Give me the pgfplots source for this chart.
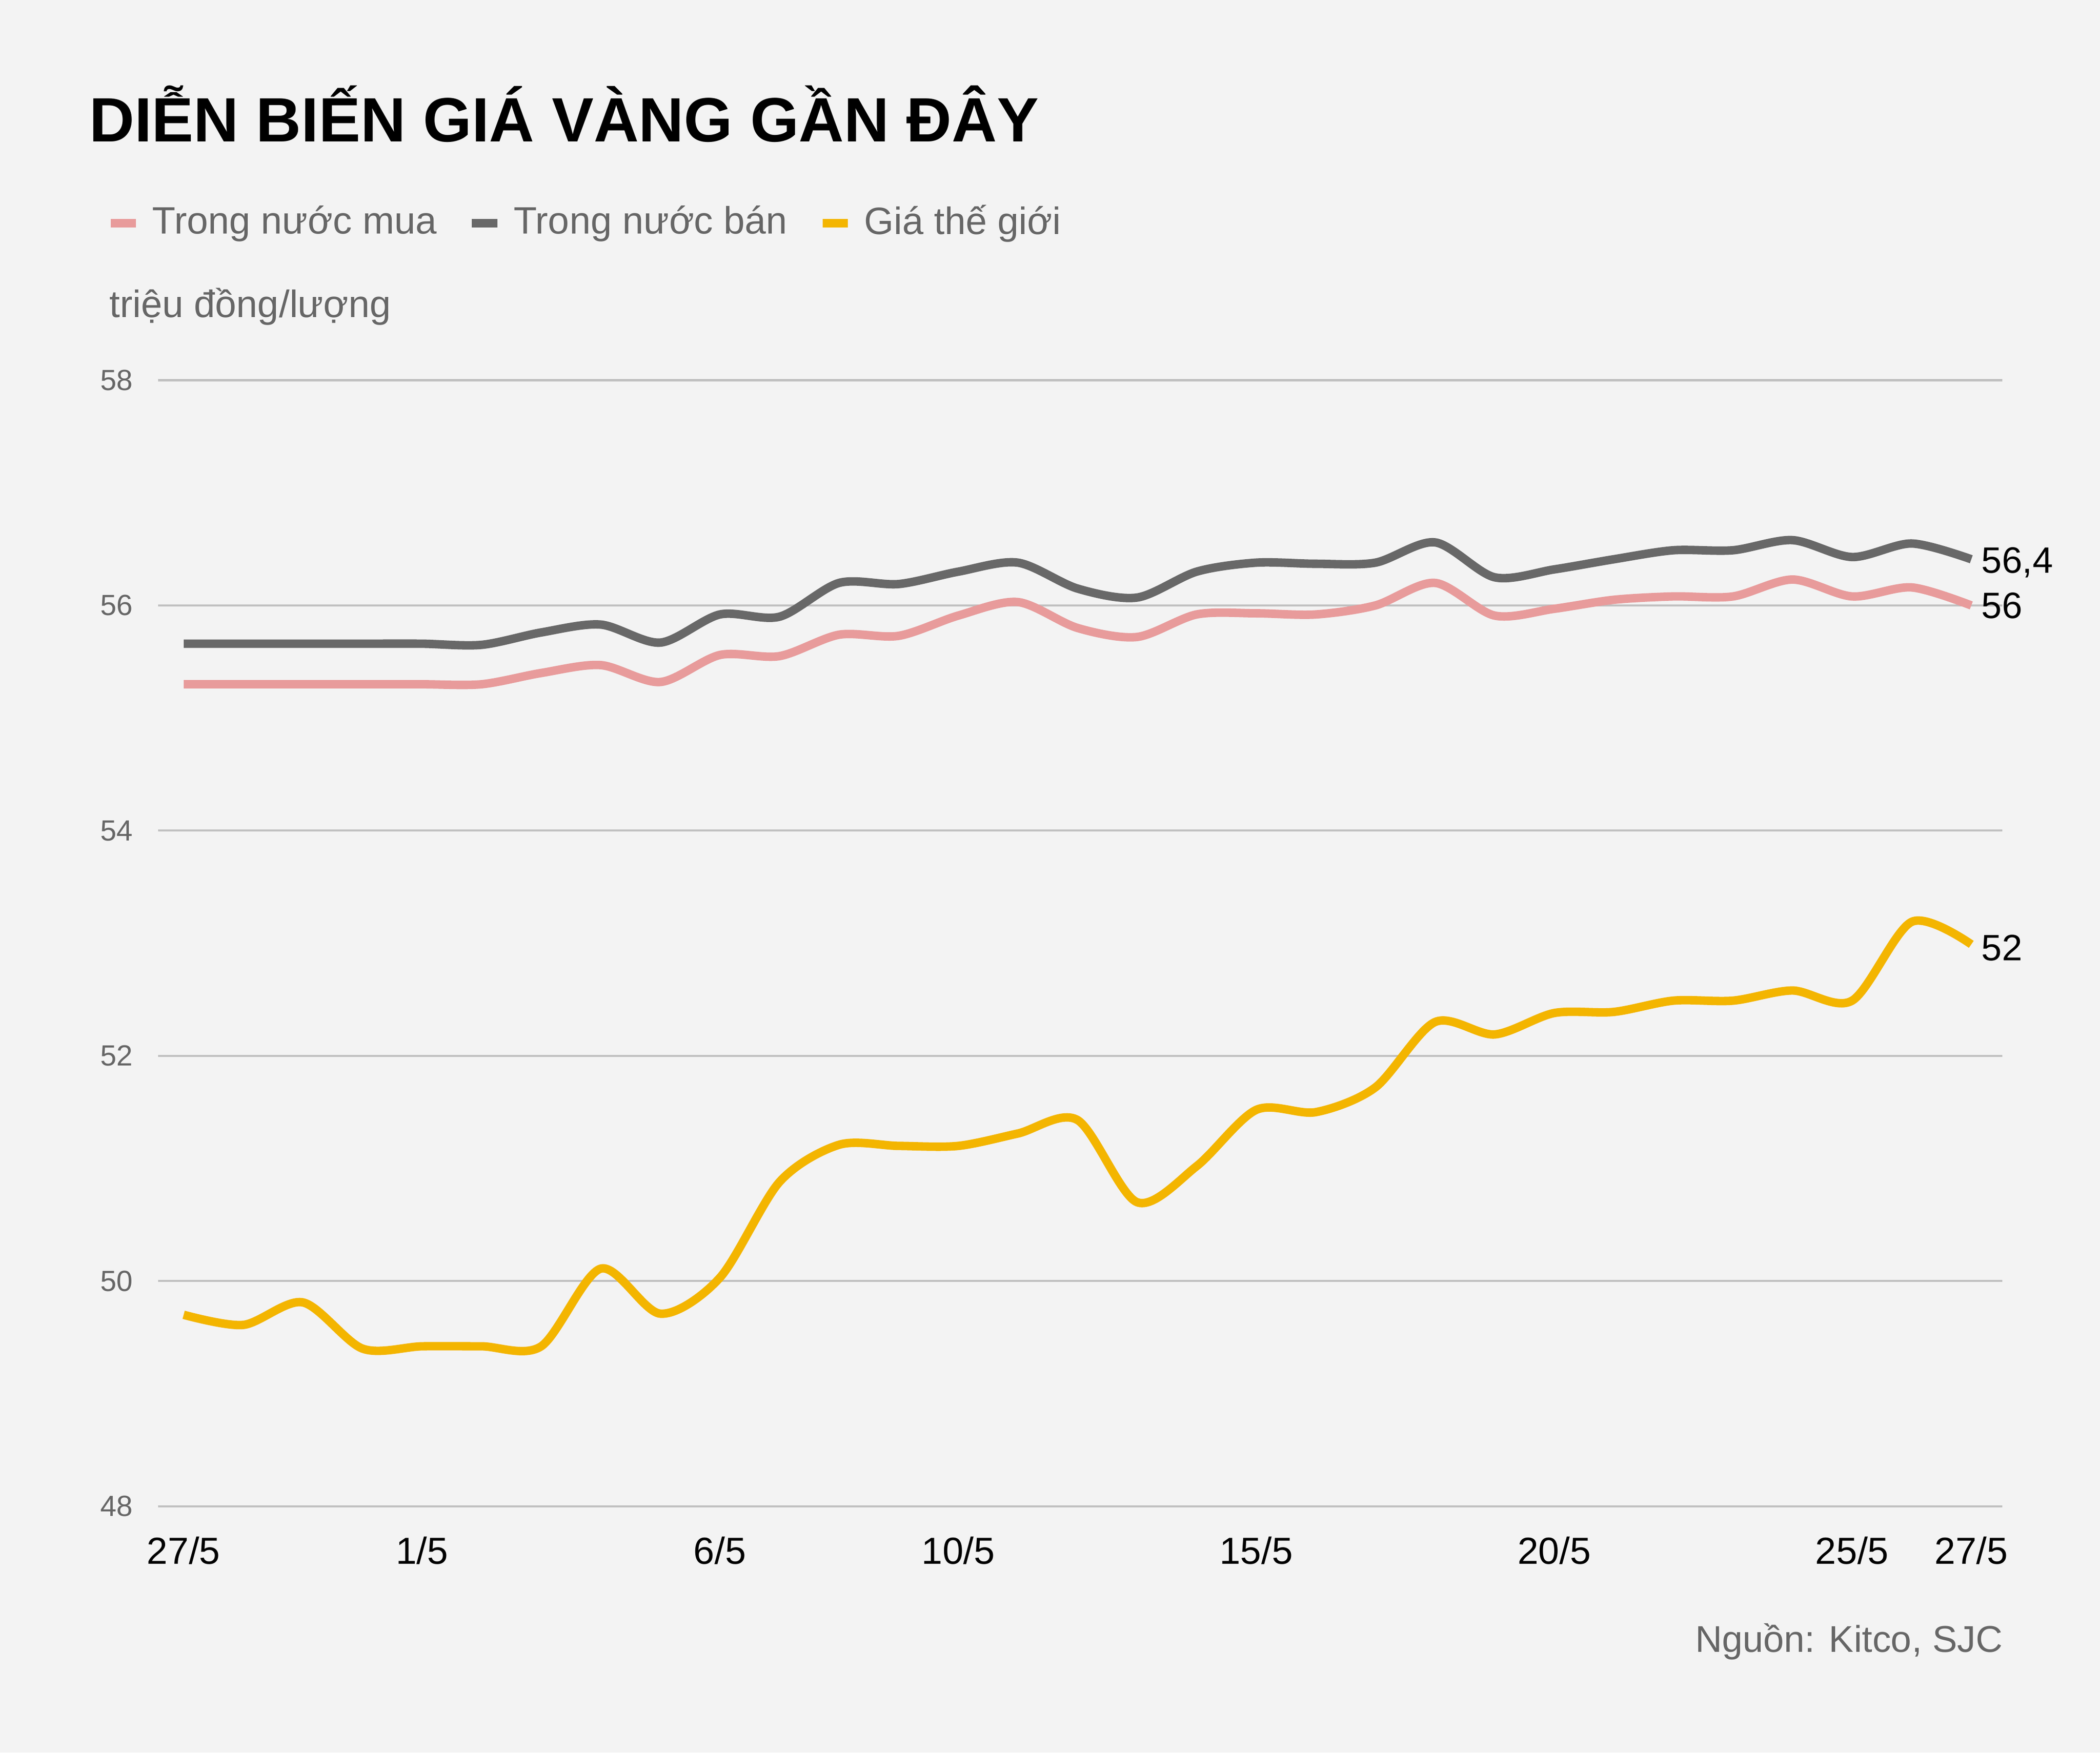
\documentclass[border=0pt]{standalone}
\usepackage{fontspec}
\setmainfont{Liberation Sans}
\usepackage{pgfplots}
\usepackage{pgfplotstable}
\pgfplotsset{compat=1.18}

\definecolor{bg}{HTML}{F3F3F3}
\definecolor{txt}{HTML}{666666}
\definecolor{gridc}{HTML}{C0C0C0}
\definecolor{muac}{HTML}{E89B9B}
\definecolor{banc}{HTML}{686868}
\definecolor{tgc}{HTML}{F3B500}

% x = day index, 0 = first day, 30 = 27/5
\pgfplotstableread{
x mua ban tg
0  55.30 55.66 49.70
1  55.30 55.66 49.61
2  55.30 55.66 49.81
3  55.30 55.66 49.40
4  55.30 55.66 49.42
5  55.30 55.65 49.42
6  55.40 55.76 49.42
7  55.47 55.83 50.11
8  55.32 55.67 49.71
9  55.56 55.92 50.03
10 55.55 55.90 50.88
11 55.74 56.20 51.21
12 55.73 56.19 51.20
13 55.91 56.30 51.20
14 56.03 56.38 51.31
15 55.80 56.15 51.43
16 55.72 56.07 50.70
17 55.92 56.30 51.02
18 55.93 56.38 51.52
19 55.92 56.37 51.50
20 56.00 56.38 51.72
21 56.20 56.56 52.30
22 55.91 56.25 52.19
23 55.97 56.32 52.38
24 56.05 56.41 52.39
25 56.08 56.49 52.49
26 56.08 56.49 52.49
27 56.23 56.58 52.58
28 56.08 56.43 52.49
29 56.16 56.55 53.19
30 56.00 56.41 52.99
}\giavang

\begin{document}
\begin{tikzpicture}
\fill[bg] (0mm,0mm) rectangle (156.8mm,130.9mm);

\node[anchor=base west, inner sep=0pt, font=\fontsize{13.3}{16}\selectfont\bfseries]
    at (6.6mm,120.3mm) {DIỄN BIẾN GIÁ VÀNG GẦN ĐÂY};
\node[anchor=base west, inner sep=0pt, text=txt, font=\fontsize{8.1}{10}\selectfont]
    at (8.1mm,107.2mm) {triệu đồng/lượng};
\node[anchor=base east, inner sep=0pt, text=txt, font=\fontsize{7.9}{10}\selectfont]
    at (149.6mm,7.5mm) {Nguồn: Kitco, SJC};

\begin{axis}[
    at={(11.8mm,18.4mm)}, anchor=south west,
    width=137.7mm, height=84.1mm, scale only axis,
    xmin=-0.43, xmax=30.52,
    ymin=48, ymax=58,
    axis line style={draw=none},
    major tick length=0pt,
    ymajorgrids,
    grid style={gridc, line width=0.43pt},
    ytick={48,50,...,58},
    xtick={0,4,9,13,18,23,28,30},
    xticklabels={27/5,1/5,6/5,10/5,15/5,20/5,25/5,27/5},
    xticklabel style={font=\fontsize{8}{10}\selectfont, text=black,
        inner sep=0pt, anchor=north, yshift=-2.2mm},
    yticklabel style={font=\fontsize{6.2}{8}\selectfont, text=txt,
        inner sep=0pt, anchor=east, xshift=-1.8mm},
    /pgf/number format/assume math mode=true,
    clip=false,
    legend columns=3,
    legend image code/.code={
        \draw[#1, line width=0.64mm] (0mm,0mm) -- (1.9mm,0mm);
    },
    legend style={
        at={(-0.0280,1.1395)}, anchor=west,
        draw=none, fill=none, inner sep=0pt, outer sep=0pt,
        font=\fontsize{8.1}{10}\selectfont, text=txt,
        nodes={inner sep=0pt},
        /tikz/every odd column/.append style={column sep=0.9mm},
        /tikz/every even column/.append style={column sep=2.3mm},
    },
]

\addplot[muac, line width=1.8pt, smooth, mark=none] table[x=x, y=mua] {\giavang};
\addlegendentry{Trong nước mua}
\addplot[banc, line width=1.8pt, smooth, mark=none] table[x=x, y=ban] {\giavang};
\addlegendentry{Trong nước bán}
\addplot[tgc, line width=1.8pt, smooth, mark=none] table[x=x, y=tg] {\giavang};
\addlegendentry{Giá thế giới}

\node[anchor=west, inner sep=0pt, xshift=0.7mm, font=\fontsize{7.8}{10}\selectfont]
    at (axis cs:30,56.38) {56,4};
\node[anchor=west, inner sep=0pt, xshift=0.7mm, font=\fontsize{7.8}{10}\selectfont]
    at (axis cs:30,56.0) {56};
\node[anchor=west, inner sep=0pt, xshift=0.7mm, font=\fontsize{7.8}{10}\selectfont]
    at (axis cs:30,52.96) {52};
\end{axis}
\end{tikzpicture}
\end{document}
